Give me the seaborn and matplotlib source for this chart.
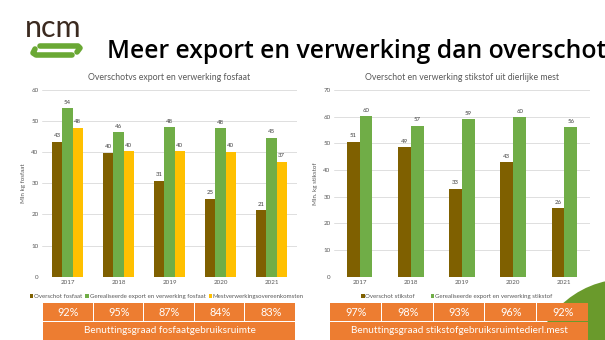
import matplotlib
matplotlib.use("Agg")
import matplotlib.pyplot as plt
from matplotlib.patches import Rectangle, Circle
import seaborn as sns
import pandas as pd

# ---------------- data ----------------
years = ["2017", "2018", "2019", "2020", "2021"]

p_overschot = [43.4, 39.8, 30.9, 25.1, 21.4]
p_export = [54.1, 46.4, 48.1, 47.7, 44.6]
p_overeenk = [47.9, 40.3, 40.3, 40.1, 37.0]
p_series = ["Overschot fosfaat", "Gerealiseerde export en verwerking fosfaat",
            "Mestverwerkingsovereenkomsten"]

n_overschot = [50.6, 48.6, 32.9, 42.9, 25.6]
n_export = [60.1, 56.6, 59.0, 59.8, 56.1]
n_series = ["Overschot stikstof", "Gerealiseerde export en verwerking stikstof"]

p_pct = ["92%", "95%", "87%", "84%", "83%"]
n_pct = ["97%", "98%", "93%", "96%", "92%"]
p_pct_label = "Benuttingsgraad fosfaatgebruiksruimte"
n_pct_label = "Benuttingsgraad stikstofgebruiksruimtedierl.mest"

title = "Meer export en verwerking dan overschot"
p_title = "Overschotvs export en verwerking fosfaat"
n_title = "Overschot en verwerking stikstof uit dierlijke mest"
p_ylabel = "Mln kg fosfaat"
n_ylabel = "Mln. kg stikstof"

BROWN = "#7F6000"
GREEN = "#70AD47"
YELLOW = "#FFC000"
ORANGE = "#ED7D31"
GREY = "#595959"

W, H = 605, 340

sns.set_style("white")
plt.rcParams["font.family"] = ["Lato", "DejaVu Sans"]

fig = plt.figure(figsize=(6.05, 3.4), dpi=100)
fig.patch.set_facecolor("white")


def ax_rect(x0, y0, x1, y1):
    # pixel box (top-left origin) -> figure fraction rect
    return [x0 / W, 1 - y1 / H, (x1 - x0) / W, (y1 - y0) / H]


# ---------------- background / decoration layer (pixel coords) ----------------
bg = fig.add_axes([0, 0, 1, 1], zorder=0)
bg.set_xlim(0, W)
bg.set_ylim(H, 0)
bg.axis("off")
bg.add_patch(Circle((626, 373), 94, facecolor="#6A9A2C", edgecolor="none", zorder=1))

# logo
bg.text(25, 37, "ncm", fontsize=22, color="#3B2A20", ha="left", va="baseline",
        family=["Lato", "DejaVu Sans"], fontweight="normal")
lg = "#6AA834"
bg.plot([40, 78, 80, 77], [46, 46, 48, 52], color=lg, lw=4, solid_capstyle="round",
        solid_joinstyle="round")
bg.plot([35, 33, 36, 72], [49, 53, 55, 55], color=lg, lw=4, solid_capstyle="round",
        solid_joinstyle="round")

bg.text(107, 58, title, fontsize=17.8, fontweight="semibold", color="black",
        ha="left", va="baseline", family=["Open Sans", "DejaVu Sans"])


def style_axis(ax, ymax, step, ylabel):
    ax.set_facecolor("none")
    ax.set_ylim(0, ymax)
    ax.set_xlim(-0.5, 4.5)
    ax.set_yticks(range(0, ymax + 1, step))
    for s in ax.spines.values():
        s.set_visible(False)
    ax.grid(axis="y", color="#D9D9D9", lw=0.6)
    ax.set_axisbelow(True)
    ax.tick_params(axis="both", length=0, labelsize=4.5, labelcolor=GREY, pad=2.5)
    ax.set_xlabel("")
    ax.set_ylabel(ylabel, fontsize=4.5, color=GREY, labelpad=4)


# ---------------- left chart ----------------
dfp = pd.DataFrame({
    "jaar": years * 3,
    "waarde": p_overschot + p_export + p_overeenk,
    "serie": [p_series[0]] * 5 + [p_series[1]] * 5 + [p_series[2]] * 5,
})
axL = fig.add_axes(ax_rect(42, 90, 297, 276.7), zorder=2)
sns.barplot(data=dfp, x="jaar", y="waarde", hue="serie", palette=[BROWN, GREEN, YELLOW],
            width=0.6, ax=axL, saturation=1, linewidth=0, edgecolor="none")
style_axis(axL, 60, 10, p_ylabel)
for c in axL.containers:
    axL.bar_label(c, fmt="%.0f", fontsize=4.3, color="#404040", padding=2.5)
axL.set_title(p_title, fontsize=6.3, color=GREY, pad=7)
axL.legend(loc="center", bbox_to_anchor=(0.49, -0.105), ncol=3, frameon=False,
           fontsize=4.4, handlelength=0.55, handleheight=0.7, handletextpad=0.15,
           columnspacing=0.5, labelcolor=GREY)

# ---------------- right chart ----------------
dfn = pd.DataFrame({
    "jaar": years * 2,
    "waarde": n_overschot + n_export,
    "serie": [n_series[0]] * 5 + [n_series[1]] * 5,
})
axR = fig.add_axes(ax_rect(334, 90, 590, 276.7), zorder=2)
sns.barplot(data=dfn, x="jaar", y="waarde", hue="serie", palette=[BROWN, GREEN],
            width=0.5, ax=axR, saturation=1, linewidth=0, edgecolor="none")
style_axis(axR, 70, 10, n_ylabel)
for c in axR.containers:
    axR.bar_label(c, fmt="%.0f", fontsize=4.3, color="#404040", padding=2.5)
axR.set_title(n_title, fontsize=6.3, color=GREY, pad=7)
axR.legend(loc="center", bbox_to_anchor=(0.48, -0.105), ncol=2, frameon=False,
           fontsize=4.4, handlelength=0.55, handleheight=0.7, handletextpad=0.15,
           columnspacing=2.6, labelcolor=GREY)

# ---------------- percentage boxes (overlay, pixel coords) ----------------
ov = fig.add_axes([0, 0, 1, 1], zorder=3)
ov.set_xlim(0, W)
ov.set_ylim(H, 0)
ov.axis("off")
ov.set_facecolor("none")


def boxes(x0, x1, pcts, label):
    cw = (x1 - x0) / len(pcts)
    for i, p in enumerate(pcts):
        ov.add_patch(Rectangle((x0 + i * cw, 303), cw - 1, 18, facecolor=ORANGE,
                               edgecolor="none"))
        ov.text(x0 + i * cw + cw / 2, 312.5, p, fontsize=7.8, color="white",
                ha="center", va="center")
    ov.add_patch(Rectangle((x0, 322), x1 - x0 - 1, 19, facecolor=ORANGE, edgecolor="none"))
    ov.text((x0 + x1) / 2, 330.5, label, fontsize=7.2, color="white",
            ha="center", va="center")


boxes(43, 296, p_pct, p_pct_label)
boxes(330, 589, n_pct, n_pct_label)

fig.savefig("out.png", dpi=100, facecolor="white")
